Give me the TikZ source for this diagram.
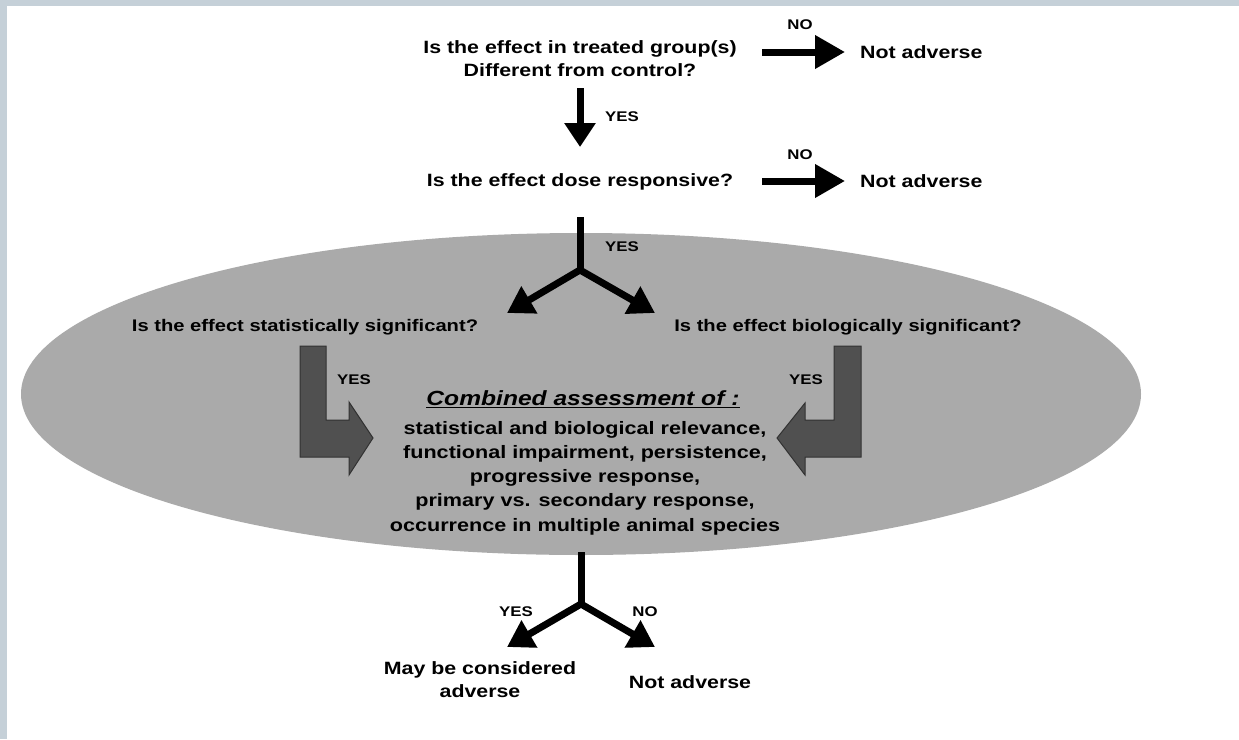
\documentclass[tikz,border=0pt]{standalone}
\usepackage{fontspec}
\setmainfont{Liberation Sans}
\newfontfamily\widesans[FakeStretch=1.2]{Liberation Sans}
\usetikzlibrary{arrows.meta}
\definecolor{frame}{RGB}{197,208,216}
\definecolor{ellgray}{RGB}{170,170,170}
\definecolor{larrow}{RGB}{80,80,80}
\definecolor{larrowedge}{RGB}{50,50,50}
\begin{document}
\begin{tikzpicture}[x=1pt,y=-1pt,
  txt/.style={font=\widesans\bfseries\fontsize{17.8}{23}\selectfont, align=center, inner sep=0pt},
  midq/.style={font=\widesans\bfseries\fontsize{16.8}{20}\selectfont, align=center, inner sep=0pt},
  lbl/.style={font=\widesans\bfseries\fontsize{14}{16}\selectfont, inner sep=0pt},
  bigarrow/.style={line width=7pt, -{Triangle[length=30pt,width=32pt]}, shorten >=15pt},
  forkline/.style={line width=7pt},
  forkarrow/.style={line width=7pt, -{Triangle[length=26pt,width=30pt]}},
  lshape/.style={fill=larrow, draw=larrowedge, line width=1pt, line join=miter}
]
\useasboundingbox (0,0) rectangle (1239,739);
\fill[white] (0,0) rectangle (1239,739);
\fill[frame] (0,0) rectangle (1239,6);
\fill[frame] (0,0) rectangle (7,739);

% ellipse
\fill[ellgray] (581,394) ellipse [x radius=560, y radius=161];

% top question
\node[txt] (q1) at (580,59) {Is the effect in treated group(s)\\Different from control?};
\node[txt, anchor=west] (na1) at (860,52) {Not adverse};
\coordinate (a1s) at (762,52);
\draw[bigarrow] (a1s) -- (na1.west);
\node[lbl] (no1) at (800,25) {NO};

% down arrow
\node[txt] (q2) at (580,182) {Is the effect dose responsive?};
\coordinate (d1s) at (580,88);
\coordinate (d1e) at (580,147);
\draw[line width=7pt, -{Triangle[length=24pt,width=30pt]}] (d1s) -- (d1e);
\node[lbl] (yes1) at (622,117) {YES};

\node[txt, anchor=west] (na2) at (860,181) {Not adverse};
\coordinate (a2s) at (762,181);
\draw[bigarrow] (a2s) -- (na2.west);
\node[lbl] (no2) at (800,155) {NO};

% fork 1
\coordinate (f1top) at (580,217);
\coordinate (f1j) at (580,270);
\coordinate (f1l) at (507,313);
\coordinate (f1r) at (655,313);
\draw[forkline] (f1top) -- (f1j);
\draw[forkarrow] (f1j) -- (f1l);
\draw[forkarrow] (f1j) -- (f1r);
\node[lbl] (yes2) at (622,247) {YES};

\node[midq] (qs) at (305,327) {Is the effect statistically significant?};
\node[midq] (qb) at (848,327) {Is the effect biologically significant?};

% L arrows
\path[lshape] (300,346) -- (326,346) -- (326,420) -- (349,420) -- (349,402) -- (373,438) -- (349,475) -- (349,457) -- (300,457) -- cycle;
\path[lshape] (861,346) -- (834,346) -- (834,420) -- (805,420) -- (805,403) -- (777,438) -- (805,475) -- (805,457) -- (861,457) -- cycle;
\node[lbl] (yes3) at (354,380) {YES};
\node[lbl] (yes4) at (806,380) {YES};

% combined assessment
\node[font=\widesans\bfseries\itshape\fontsize{20.5}{24}\selectfont, inner sep=0pt] (ca) at (583,399) {\underline{Combined assessment of :}};
\node[txt, font=\widesans\bfseries\fontsize{18}{24.3}\selectfont] (cl) at (585,478) {statistical and biological relevance,\\functional impairment, persistence,\\progressive response,\\primary vs. secondary response,\\occurrence in multiple animal species};

% fork 2
\coordinate (f2top) at (581,552);
\coordinate (f2j) at (581,604);
\coordinate (f2l) at (507,647);
\coordinate (f2r) at (655,647);
\draw[forkline] (f2top) -- (f2j);
\draw[forkarrow] (f2j) -- (f2l);
\draw[forkarrow] (f2j) -- (f2r);
\node[lbl] (yes5) at (516,612) {YES};
\node[lbl] (no3) at (645,612) {NO};

\node[txt] (adv) at (480,680) {May be considered\\adverse};
\node[txt] (na3) at (690,682) {Not adverse};
\end{tikzpicture}
\end{document}
